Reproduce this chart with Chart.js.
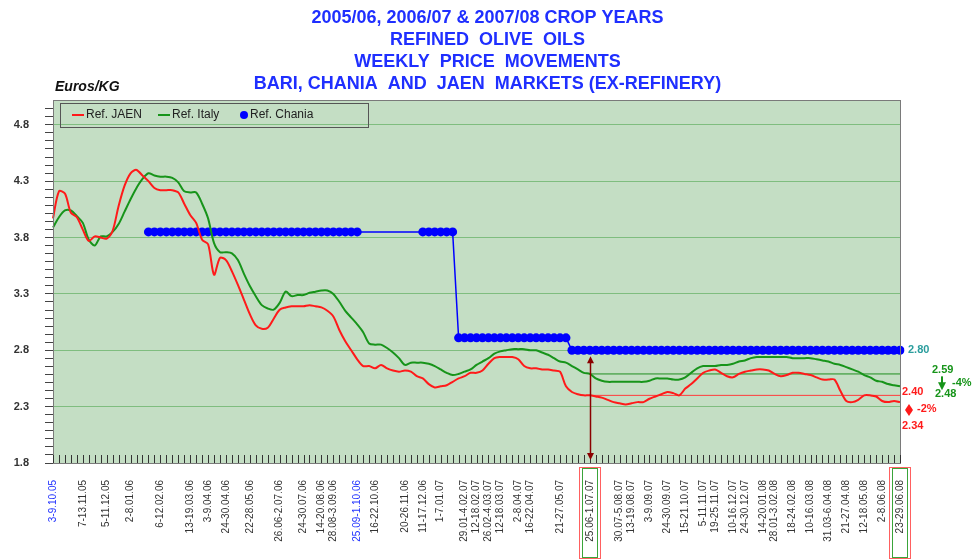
<!DOCTYPE html>
<html>
<head>
<meta charset="utf-8">
<title>Refined olive oils - weekly price movements</title>
<script src="https://cdn.jsdelivr.net/npm/chart.js@4.4.1/dist/chart.umd.min.js"></script>
<style>
  html, body { margin: 0; padding: 0; background: #fff; }
</style>
</head>
<body>
<canvas id="priceChart" width="975" height="559"></canvas>
<script>
// weekly prices, Euros/KG, week 0 = 3-9.10.05
const jaen = [
    3.97, 4.21, 4.19, 4.02, 3.98, 3.87, 3.77, 3.81, 3.80, 3.79,
    3.86, 4.08, 4.26, 4.37, 4.40, 4.35, 4.30, 4.24, 4.22, 4.22,
    4.22, 4.20, 4.10, 4.00, 3.93, 3.78, 3.74, 3.47, 3.62, 3.60,
    3.50, 3.38, 3.25, 3.12, 3.02, 2.99, 3.00, 3.08, 3.16, 3.18,
    3.19, 3.19, 3.19, 3.20, 3.19, 3.18, 3.15, 3.10, 2.98, 2.88,
    2.80, 2.72, 2.66, 2.66, 2.64, 2.67, 2.64, 2.62, 2.61, 2.62,
    2.61, 2.57, 2.55, 2.50, 2.47, 2.48, 2.49, 2.52, 2.55, 2.57,
    2.60, 2.60, 2.62, 2.68, 2.73, 2.74, 2.74, 2.74, 2.72, 2.66,
    2.64, 2.64, 2.63, 2.63, 2.62, 2.61, 2.48, 2.43, 2.41, 2.40,
    2.40, 2.39, 2.38, 2.36, 2.34, 2.33, 2.32, 2.33, 2.34, 2.34,
    2.37, 2.39, 2.41, 2.43, 2.42, 2.40, 2.46, 2.50, 2.55, 2.60,
    2.62, 2.63, 2.60, 2.57, 2.56, 2.59, 2.61, 2.62, 2.63, 2.63,
    2.62, 2.59, 2.57, 2.58, 2.60, 2.60, 2.59, 2.58, 2.56, 2.54,
    2.54, 2.54, 2.44, 2.35, 2.34, 2.36, 2.40, 2.40, 2.39, 2.35,
    2.34, 2.35, 2.34
];
const italy = [
    3.89, 3.98, 4.04, 4.04, 3.99, 3.93, 3.78, 3.73, 3.81, 3.81,
    3.85, 3.92, 4.03, 4.14, 4.24, 4.32, 4.37, 4.35, 4.34, 4.34,
    4.33, 4.29, 4.21, 4.20, 4.20, 4.10, 3.97, 3.75, 3.67, 3.67,
    3.66, 3.60, 3.48, 3.37, 3.28, 3.20, 3.17, 3.16, 3.22, 3.32,
    3.28, 3.29, 3.29, 3.31, 3.32, 3.33, 3.33, 3.30, 3.23, 3.15,
    3.09, 3.03, 2.96, 2.86, 2.85, 2.85, 2.82, 2.78, 2.73, 2.67,
    2.69, 2.69, 2.69, 2.68, 2.66, 2.63, 2.60, 2.58, 2.59, 2.61,
    2.63, 2.67, 2.70, 2.73, 2.77, 2.79, 2.80, 2.81, 2.81, 2.81,
    2.80, 2.80, 2.78, 2.76, 2.73, 2.70, 2.69, 2.66, 2.63, 2.60,
    2.59, 2.55, 2.53, 2.52, 2.52, 2.52, 2.52, 2.52, 2.52, 2.52,
    2.53, 2.55, 2.55, 2.55, 2.54, 2.54, 2.56, 2.60, 2.64, 2.66,
    2.66, 2.66, 2.67, 2.67, 2.68, 2.70, 2.71, 2.73, 2.74, 2.74,
    2.74, 2.74, 2.74, 2.74, 2.73, 2.73, 2.73, 2.73, 2.72, 2.71,
    2.70, 2.68, 2.67, 2.65, 2.63, 2.61, 2.58, 2.56, 2.53, 2.52,
    2.50, 2.49, 2.48
];
const chania = [
    null, null, null, null, null, null, null, null, null, null,
    null, null, null, null, null, null, 3.85, 3.85, 3.85, 3.85,
    3.85, 3.85, 3.85, 3.85, 3.85, 3.85, 3.85, 3.85, 3.85, 3.85,
    3.85, 3.85, 3.85, 3.85, 3.85, 3.85, 3.85, 3.85, 3.85, 3.85,
    3.85, 3.85, 3.85, 3.85, 3.85, 3.85, 3.85, 3.85, 3.85, 3.85,
    3.85, 3.85, null, null, null, null, null, null, null, null,
    null, null, 3.85, 3.85, 3.85, 3.85, 3.85, 3.85, 2.91, 2.91,
    2.91, 2.91, 2.91, 2.91, 2.91, 2.91, 2.91, 2.91, 2.91, 2.91,
    2.91, 2.91, 2.91, 2.91, 2.91, 2.91, 2.91, 2.80, 2.80, 2.80,
    2.80, 2.80, 2.80, 2.80, 2.80, 2.80, 2.80, 2.80, 2.80, 2.80,
    2.80, 2.80, 2.80, 2.80, 2.80, 2.80, 2.80, 2.80, 2.80, 2.80,
    2.80, 2.80, 2.80, 2.80, 2.80, 2.80, 2.80, 2.80, 2.80, 2.80,
    2.80, 2.80, 2.80, 2.80, 2.80, 2.80, 2.80, 2.80, 2.80, 2.80,
    2.80, 2.80, 2.80, 2.80, 2.80, 2.80, 2.80, 2.80, 2.80, 2.80,
    2.80, 2.80, 2.80
];

// weeks whose date is printed under the axis
const labelWeeks = [0, 5, 9, 13, 18, 23, 26, 29, 33, 38, 42, 45, 47, 51,
    54, 59, 62, 65, 69, 71, 73, 75, 78, 80, 85, 90,
    95, 97, 100, 103, 106, 109, 111, 114, 116, 119, 121, 124, 127, 130, 133, 136, 139, 142];
const cropYearWeeks = [0, 51];
const refWeek = 90;    // 25.06-1.07.07, one year before the last week
const lastWeek = 142;
const yMajorTicks = [1.8, 2.3, 2.8, 3.3, 3.8, 4.3, 4.8];
const changeJaen = '-2%';
const changeItaly = '-4%';

const titleLines = [
    '2005/06, 2006/07 & 2007/08 CROP YEARS',
    'REFINED  OLIVE  OILS',
    'WEEKLY  PRICE  MOVEMENTS',
    'BARI, CHANIA  AND  JAEN  MARKETS (EX-REFINERY)'
];

const FONT = 'Arial, "Liberation Sans", sans-serif';
const RED = '#ff1a1a';
const GREEN = '#17941a';
const BLUE = '#0000ff';

// week label like "3-9.10.05" or "25.09-1.10.06"
const firstMonday = Date.UTC(2005, 9, 3);
function weekLabel(i) {
    const a = new Date(firstMonday + i * 7 * 864e5);
    const b = new Date(firstMonday + (i * 7 + 6) * 864e5);
    const mm = d => String(d.getUTCMonth() + 1).padStart(2, '0');
    const yy = String(b.getUTCFullYear()).slice(2);
    if (a.getUTCMonth() === b.getUTCMonth()) {
        return a.getUTCDate() + '-' + b.getUTCDate() + '.' + mm(b) + '.' + yy;
    }
    return a.getUTCDate() + '.' + mm(a) + '-' + b.getUTCDate() + '.' + mm(b) + '.' + yy;
}
const weekLabels = jaen.map((v, i) => weekLabel(i));

// year-ago reference levels
const jaenYearAgo = weekLabels.map((w, i) => (i === refWeek || i === lastWeek) ? jaen[refWeek] : null);
const italyYearAgo = weekLabels.map((w, i) => (i === refWeek || i === lastWeek) ? italy[refWeek] : null);

// y ticks: 7 small steps between the labelled values
const yTickValues = [];
yMajorTicks.forEach((v, k) => {
    yTickValues.push(v);
    if (k < yMajorTicks.length - 1) {
        for (let s = 1; s < 7; s++) yTickValues.push(v + s * 0.5 / 7);
    }
});
yTickValues.push(4.8 + 0.5 / 7, 4.8 + 1 / 7);

function isMajor(v) {
    return yMajorTicks.some(m => Math.abs(m - v) < 1e-6);
}

const plotBackground = {
    id: 'plotBackground',
    beforeDraw(chart) {
        const { ctx, chartArea: a } = chart;
        ctx.save();
        ctx.fillStyle = '#c4dec4';
        ctx.fillRect(a.left, a.top, a.right - a.left, a.bottom - a.top);
        ctx.restore();
    }
};

const overlays = {
    id: 'overlays',
    afterDraw(chart) {
        const { ctx, chartArea: a } = chart;
        const xs = chart.scales.x, ys = chart.scales.y;
        ctx.save();

        // frame
        ctx.strokeStyle = '#7a7a7a';
        ctx.lineWidth = 1;
        ctx.strokeRect(a.left + 0.5, a.top + 0.5, a.right - a.left, a.bottom - a.top);

        // weekly tick marks inside the plot
        ctx.strokeStyle = '#333';
        ctx.beginPath();
        weekLabels.forEach((w, i) => {
            const px = Math.round(xs.getPixelForValue(i)) + 0.5;
            ctx.moveTo(px, a.bottom - 8);
            ctx.lineTo(px, a.bottom);
        });
        ctx.stroke();

        // legend box
        const lx = a.left + 7, ly = a.top + 3;
        ctx.strokeStyle = '#555';
        ctx.strokeRect(lx + 0.5, ly + 0.5, 308, 24);
        ctx.font = '12px ' + FONT;
        ctx.fillStyle = '#222';
        ctx.textBaseline = 'middle';
        const cy = ly + 12;
        const items = [
            { x: lx + 12, text: 'Ref. JAEN', color: RED, dot: false },
            { x: lx + 98, text: 'Ref. Italy', color: GREEN, dot: false },
            { x: lx + 178, text: 'Ref. Chania', color: BLUE, dot: true }
        ];
        items.forEach(it => {
            if (it.dot) {
                ctx.fillStyle = it.color;
                ctx.beginPath();
                ctx.arc(it.x + 6, cy, 4, 0, Math.PI * 2);
                ctx.fill();
                ctx.fillStyle = '#222';
                ctx.fillText(it.text, it.x + 12, cy);
            } else {
                ctx.strokeStyle = it.color;
                ctx.lineWidth = 2;
                ctx.beginPath();
                ctx.moveTo(it.x, cy);
                ctx.lineTo(it.x + 12, cy);
                ctx.stroke();
                ctx.fillStyle = '#222';
                ctx.fillText(it.text, it.x + 14, cy);
            }
        });

        // unit label
        ctx.font = 'italic bold 14px ' + FONT;
        ctx.fillStyle = '#111';
        ctx.textBaseline = 'alphabetic';
        ctx.fillText('Euros/KG', a.left + 2, a.top - 9);

        // year-ago arrow
        const rx = Math.round(xs.getPixelForValue(refWeek)) + 0.5;
        const top = ys.getPixelForValue(chania[refWeek]) + 6;
        const bot = a.bottom - 3;
        ctx.strokeStyle = '#8b0000';
        ctx.fillStyle = '#8b0000';
        ctx.lineWidth = 1.5;
        ctx.beginPath();
        ctx.moveTo(rx, top + 4);
        ctx.lineTo(rx, bot - 4);
        ctx.stroke();
        ctx.beginPath();
        ctx.moveTo(rx, top); ctx.lineTo(rx - 3.5, top + 7); ctx.lineTo(rx + 3.5, top + 7);
        ctx.closePath(); ctx.fill();
        ctx.beginPath();
        ctx.moveTo(rx, bot); ctx.lineTo(rx - 3.5, bot - 7); ctx.lineTo(rx + 3.5, bot - 7);
        ctx.closePath(); ctx.fill();

        // boxes round the compared week labels
        [refWeek, lastWeek].forEach(i => {
            const px = Math.round(xs.getPixelForValue(i));
            ctx.lineWidth = 1;
            ctx.strokeStyle = '#ff6060';
            ctx.strokeRect(px - 10.5, a.bottom + 4.5, 21, 91);
            ctx.strokeStyle = '#3aa53a';
            ctx.strokeRect(px - 7.5, a.bottom + 5.5, 15, 89);
        });

        // value notes on the right
        const R = a.right;
        ctx.font = 'bold 11px ' + FONT;
        ctx.textBaseline = 'middle';
        ctx.fillStyle = '#2a9d9d';
        ctx.fillText(chania[lastWeek].toFixed(2), R + 8, ys.getPixelForValue(chania[lastWeek]));
        ctx.fillStyle = GREEN;
        ctx.fillText(italy[refWeek].toFixed(2), R + 32, ys.getPixelForValue(italy[refWeek]) - 4);
        ctx.fillText(italy[lastWeek].toFixed(2), R + 35, ys.getPixelForValue(italy[lastWeek]) + 8);
        ctx.fillText(changeItaly, R + 52, ys.getPixelForValue(italy[lastWeek]) - 3);
        ctx.fillStyle = RED;
        ctx.fillText(jaen[refWeek].toFixed(2), R + 2, ys.getPixelForValue(jaen[refWeek]) - 3);
        ctx.fillText(jaen[lastWeek].toFixed(2), R + 2, ys.getPixelForValue(jaen[lastWeek]) + 24);
        ctx.fillText(changeJaen, R + 17, ys.getPixelForValue(jaen[lastWeek]) + 7);

        // green down arrow
        const gx = R + 42, gy = ys.getPixelForValue(italy[lastWeek]);
        ctx.fillStyle = GREEN;
        ctx.fillRect(gx - 1, gy - 10, 2, 8);
        ctx.beginPath();
        ctx.moveTo(gx - 4, gy - 4); ctx.lineTo(gx + 4, gy - 4); ctx.lineTo(gx, gy + 4);
        ctx.closePath(); ctx.fill();

        // red diamond
        const dx = R + 9, dy = ys.getPixelForValue(jaen[lastWeek]) + 8;
        ctx.fillStyle = RED;
        ctx.beginPath();
        ctx.moveTo(dx, dy - 6); ctx.lineTo(dx + 4, dy); ctx.lineTo(dx, dy + 6); ctx.lineTo(dx - 4, dy);
        ctx.closePath(); ctx.fill();

        ctx.restore();
    }
};

new Chart(document.getElementById('priceChart'), {
    type: 'line',
    data: {
        labels: weekLabels,
        datasets: [
            {
                label: 'Ref. JAEN',
                data: jaen,
                borderColor: RED,
                borderWidth: 2,
                pointRadius: 0,
                tension: 0.3
            },
            {
                label: 'Ref. Italy',
                data: italy,
                borderColor: GREEN,
                borderWidth: 2,
                pointRadius: 0,
                tension: 0.3
            },
            {
                label: 'Ref. Chania',
                data: chania,
                borderColor: BLUE,
                backgroundColor: BLUE,
                borderWidth: 1.5,
                pointRadius: 4.5,
                pointBorderWidth: 0,
                spanGaps: true
            },
            {
                label: 'JAEN year ago',
                data: jaenYearAgo,
                borderColor: '#ff3a3a',
                borderWidth: 1,
                pointRadius: 0,
                spanGaps: true
            },
            {
                label: 'Italy year ago',
                data: italyYearAgo,
                borderColor: '#1f8f1f',
                borderWidth: 1,
                pointRadius: 0,
                spanGaps: true
            }
        ]
    },
    options: {
        responsive: false,
        animation: false,
        layout: { padding: 0 },
        scales: {
            x: {
                afterFit: s => { s.height = 96; },
                grid: { display: false },
                border: { color: '#444' },
                ticks: {
                    autoSkip: false,
                    minRotation: 90,
                    maxRotation: 90,
                    padding: 9,
                    font: { family: FONT, size: 10 },
                    color: c => cropYearWeeks.includes(c.index) ? '#2233ff' : '#333',
                    callback: (v, i) => labelWeeks.includes(i) ? weekLabels[i] : ''
                }
            },
            y: {
                min: 1.8,
                max: 5.02,
                afterBuildTicks: s => { s.ticks = yTickValues.map(v => ({ value: v })); },
                afterFit: s => { s.width = 53; },
                border: { color: '#444' },
                grid: {
                    color: c => (isMajor(c.tick.value) && c.tick.value > 1.9) ? '#7fbd7f' : 'rgba(0,0,0,0)',
                    tickColor: '#444',
                    tickLength: 8
                },
                ticks: {
                    autoSkip: false,
                    padding: 16,
                    color: '#333',
                    font: { family: FONT, size: 11, weight: 'bold' },
                    callback: v => isMajor(v) ? v.toFixed(1) : ''
                }
            },
            // empty right-hand band that keeps room for the notes
            yRight: {
                type: 'linear',
                position: 'right',
                afterFit: s => { s.width = 75; },
                grid: { display: false },
                border: { display: false },
                ticks: { display: false }
            }
        },
        plugins: {
            legend: { display: false },
            tooltip: { enabled: false },
            title: {
                display: true,
                text: titleLines,
                color: '#1f2fff',
                padding: { top: 7, bottom: 5 },
                font: { family: FONT, size: 18, weight: 'bold', lineHeight: 22 / 18 }
            }
        }
    },
    plugins: [plotBackground, overlays]
});
</script>
</body>
</html>
